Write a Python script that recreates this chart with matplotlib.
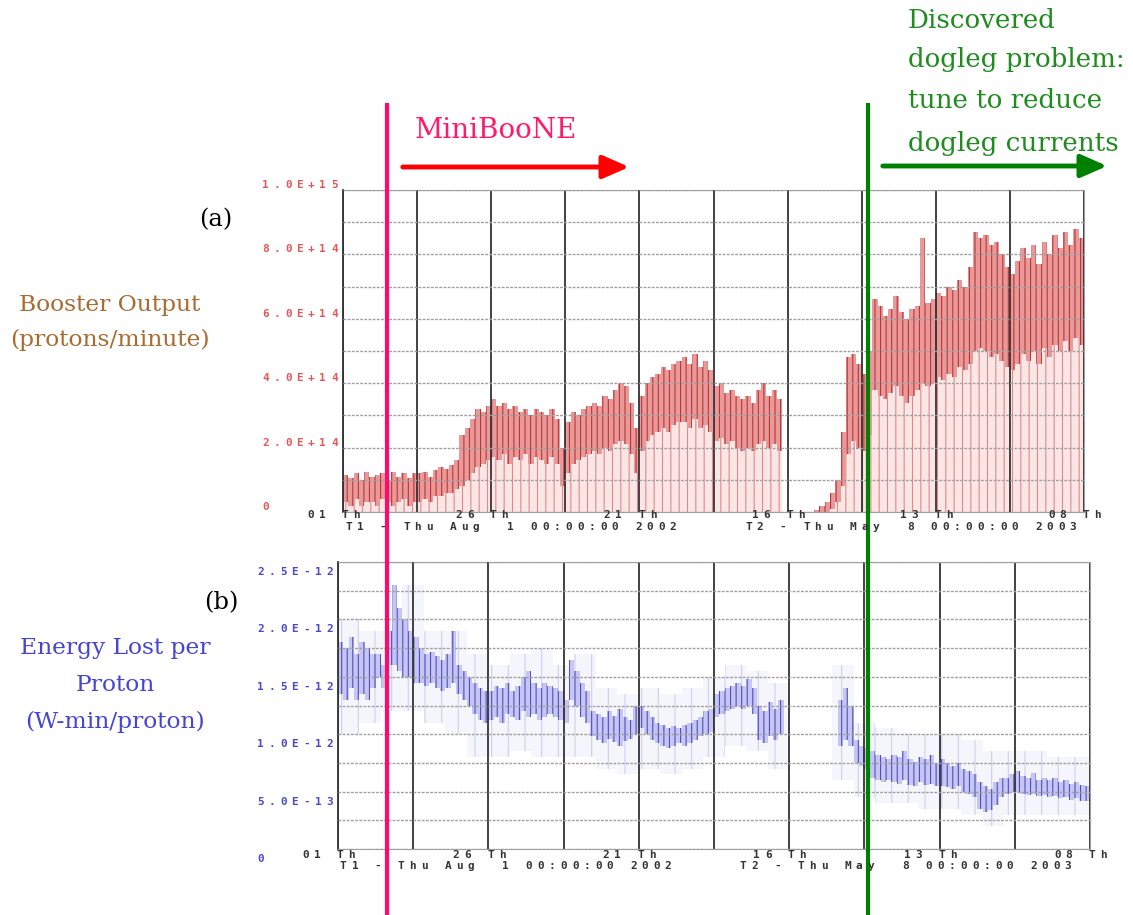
import numpy as np
import matplotlib
matplotlib.use('Agg')
import matplotlib.pyplot as plt

# --- DATA ---
# (a) booster output, units of 1E14 protons/minute, one value per 2-day bin from Aug 1 2002
a_top = [1.15, 1.05, 1.2, 1.0, 1.25, 1.1, 1.15, 1.2, 1.0, 1.25, 1.1, 1.2, 1.05, 1.2,
         1.2, 1.25, 1.1, 1.3, 1.4, 1.35, 1.45,
         1.6, 2.4, 2.6, 2.9, 3.2, 3.1, 3.3,
         3.5, 3.3, 3.4, 3.2, 3.3, 3.1, 3.2, 3.0, 3.2, 3.1, 3.0, 3.2, 2.9,
         2.0, 2.8,
         3.1, 3.0, 3.2, 3.3, 3.4, 3.3, 3.6, 3.5, 3.8, 4.0, 3.9, 3.4,
         2.6, 3.6, 4.0, 4.2, 4.3, 4.5, 4.4, 4.6, 4.7,
         4.8, 4.6, 4.9, 4.5, 4.7, 4.4,
         3.9, 4.0, 3.7, 3.8, 3.6, 3.5, 3.6, 3.4, 3.8, 4.0, 3.6, 3.8, 3.5,
         0, 0, 0, 0, 0, 0, 0.05,
         0.2, 0.3, 0.6, 1.0, 2.5,
         4.8, 4.9, 4.6, 4.3, 5.0,
         6.6, 6.4, 6.1, 6.3, 6.7, 6.2, 6.0, 6.3,
         6.4, 8.5, 6.5, 6.6, 6.8, 6.7, 7.0, 6.9, 7.2, 7.0, 7.6,
         8.7, 8.5, 8.6, 8.3, 8.4, 8.0, 7.6,
         7.4, 7.8, 8.2, 7.9, 8.3, 7.7, 8.4, 8.0, 8.6, 8.2, 8.7, 8.3, 8.8, 8.5]
a_core = [0.3, 0.2, 0.4, 0.2, 0.3, 0.3, 0.2, 0.4, 0.3, 0.2, 0.3, 0.4, 0.2, 0.3,
          0.3, 0.4, 0.3, 0.5, 0.5, 0.6, 0.6,
          0.7, 0.8, 1.0, 1.2, 1.4, 1.5, 1.6,
          1.7, 1.6, 1.8, 1.5, 1.7, 1.6, 1.8, 1.5, 1.7, 1.6, 1.5, 1.7, 1.5,
          0.8, 1.2,
          1.5, 1.6, 1.7, 1.8, 1.9, 1.8, 2.0, 1.9, 2.1, 2.2, 2.1, 1.8,
          1.2, 1.9, 2.2, 2.4, 2.5, 2.6, 2.5, 2.7, 2.8,
          2.8, 2.6, 2.9, 2.6, 2.7, 2.5,
          2.2, 2.3, 2.1, 2.2, 2.0, 1.9, 2.0, 1.9, 2.1, 2.2, 2.0, 2.1, 1.9,
          0, 0, 0, 0, 0, 0, 0,
          0, 0, 0.1, 0.3, 0.8,
          1.8, 2.2, 2.0, 1.9, 2.4,
          3.8, 3.6, 3.5, 3.7, 3.9, 3.6, 3.4, 3.6,
          3.8, 4.0, 3.9, 4.0, 4.2, 4.1, 4.3, 4.2, 4.5, 4.4, 4.6,
          5.0, 5.1, 5.0, 4.8, 4.9, 4.7, 4.5,
          4.4, 4.6, 4.9, 4.7, 5.0, 4.6, 5.1, 4.8, 5.2, 5.0, 5.3, 5.0, 5.4, 5.2]

# (b) energy lost per proton, units of 1E-12 W-min/proton, dense band per 2-day bin
nan = np.nan
b_hi = [1.8, 1.75, 1.85, 1.7, 1.8, 1.75, 1.7,
        1.7, 1.6, 1.9,
        2.3, 2.1, 2.0, 1.9, 1.85,
        1.75, 1.7, 1.72, 1.68, 1.65, 1.7, 1.9,
        1.6, 1.55, 1.5, 1.45, 1.4, 1.38,
        1.38, 1.42, 1.4, 1.45, 1.38, 1.42, 1.5, 1.55, 1.45, 1.4, 1.45, 1.42, 1.4, 1.38,
        1.3,
        1.65, 1.55, 1.45, 1.38,
        1.2, 1.18, 1.15, 1.2, 1.16, 1.22, 1.15, 1.12,
        1.25,
        1.25, 1.2, 1.15, 1.1, 1.08, 1.05, 1.07, 1.05,
        1.08, 1.1, 1.12, 1.15, 1.2, 1.22,
        1.35, 1.38, 1.4, 1.42, 1.45, 1.42, 1.48, 1.4,
        1.25, 1.2, 1.28, 1.22, 1.3,
        nan, nan, nan, nan, nan, nan, nan, nan, nan, nan,
        1.3, 1.4, 1.25,
        0.95, 0.9, 0.88,
        0.85, 0.82, 0.8, 0.78, 0.82, 0.8, 0.85, 0.78, 0.76, 0.8, 0.78, 0.82, 0.75,
        0.78, 0.75, 0.72, 0.75, 0.7, 0.68, 0.65,
        0.58, 0.55, 0.52, 0.58, 0.62,
        0.62, 0.65, 0.68, 0.64, 0.62, 0.66, 0.6, 0.62, 0.6, 0.62, 0.58, 0.6, 0.57, 0.58, 0.56, 0.55]
b_lo = [1.35, 1.3, 1.4, 1.3, 1.35, 1.3, 1.4,
        1.5, 1.4, 1.6,
        1.6, 1.55, 1.5, 1.5, 1.45,
        1.45, 1.42, 1.45, 1.4, 1.38, 1.4, 1.45,
        1.35, 1.3, 1.25, 1.18, 1.12, 1.1,
        1.12, 1.15, 1.1, 1.18, 1.15, 1.12, 1.2, 1.15, 1.18, 1.12, 1.15, 1.18, 1.15, 1.12,
        1.1,
        1.3, 1.25, 1.15, 1.1,
        0.98, 0.95, 0.92, 0.96, 0.93, 0.9, 0.94, 0.96,
        1.0,
        1.05, 1.0, 0.95, 0.92, 0.9, 0.88, 0.9, 0.92,
        0.9, 0.92, 0.95, 0.98, 1.0, 1.02,
        1.15, 1.18, 1.2, 1.22, 1.25, 1.22, 1.25, 1.18,
        0.95, 0.92, 0.98, 0.95, 1.0,
        nan, nan, nan, nan, nan, nan, nan, nan, nan, nan,
        0.9, 0.95, 0.9,
        0.75, 0.72, 0.7,
        0.62, 0.6, 0.58, 0.6, 0.58, 0.57, 0.6, 0.56, 0.55, 0.58, 0.56, 0.57, 0.55,
        0.55, 0.54, 0.52, 0.55, 0.5, 0.48, 0.45,
        0.35, 0.32, 0.34, 0.38, 0.45,
        0.48, 0.5, 0.5, 0.48, 0.47, 0.48, 0.46, 0.47, 0.45, 0.46, 0.44, 0.45, 0.43, 0.44, 0.42, 0.42]
# sparser cloud around the band, per 8-day bin
halo_lo = [1.0, 1.1, 1.2, 1.2, 1.1, 1.0, 0.8, 0.8, 0.85, 0.8, 0.8, 0.8, 0.7, 0.65, 0.7, 0.65,
           0.7, 0.8, 0.9, 0.85, 0.7, nan, nan, 0.6, 0.45, 0.4, 0.4, 0.35, 0.35, 0.3, 0.2,
           0.3, 0.3, 0.3, 0.3]
halo_hi = [2.0, 1.9, 1.9, 2.3, 1.9, 1.9, 1.7, 1.6, 1.7, 1.75, 1.6, 1.7, 1.4, 1.35, 1.4, 1.35,
           1.4, 1.5, 1.6, 1.55, 1.45, nan, nan, 1.6, 1.1, 1.05, 1.0, 1.0, 1.0, 0.95, 0.85,
           0.85, 0.85, 0.8, 0.8]

a_ylabels = ['1.0E+15', '8.0E+14', '6.0E+14', '4.0E+14', '2.0E+14', '0']
a_yvals = [10, 8, 6, 4, 2, 0]
b_ylabels = ['2.5E-12', '2.0E-12', '1.5E-12', '1.0E-12', '5.0E-13', '0']
b_yvals = [2.5, 2.0, 1.5, 1.0, 0.5, 0]
date_labels = ['01', '26', '21', '16', '13', '08']
span_days = 280

W, H = 1133, 915
plt.rcParams['hatch.linewidth'] = 0.8
fig = plt.figure(figsize=(W / 100, H / 100), dpi=100)

def fx(x): return x / W
def fy(y): return 1 - y / H

MONO = dict(family='DejaVu Sans Mono', weight='bold', fontsize=8)

def spaced(x0, y, s, pitch=11.6, **kw):
    for i, ch in enumerate(s):
        if ch != ' ':
            fig.text(fx(x0 + i * pitch), fy(y), ch, ha='left', va='center', **kw)

def panel(left, right, top, bottom, ymax):
    ax = fig.add_axes([fx(left), fy(bottom), (right - left) / W, (bottom - top) / H])
    ax.set_xlim(0, span_days); ax.set_ylim(0, ymax)
    ax.set_xticks(np.arange(0, span_days + 1, 28))
    ax.set_yticks(np.linspace(0, ymax, 11))
    ax.tick_params(length=0, labelbottom=False, labelleft=False)
    ax.grid(axis='y', color='#a0a0a0', lw=1.0, ls=(0, (2, 1)))
    ax.grid(axis='x', color='#333333', lw=1.3)
    ax.set_axisbelow(False)
    for s in ['top', 'right', 'bottom']:
        ax.spines[s].set_color('#a0a0a0')
    ax.spines['left'].set_color('#333333'); ax.spines['left'].set_linewidth(1.3)
    return ax

# --- (a) ---
a_days = np.arange(0, span_days, 2)
axa = panel(343, 1084, 190, 512, 10)
a_top_arr, a_core_arr = np.array(a_top), np.array(a_core)
axa.bar(a_days, a_top_arr, width=2, align='edge', color='#fbe6e6', edgecolor='#e08a8a',
        hatch='||', lw=0)
axa.bar(a_days, a_top_arr - a_core_arr, bottom=a_core_arr, width=2, align='edge',
        color='#e89a9a', edgecolor='#bf3434', hatch='|||', lw=0)

# --- (b) ---
axb = panel(338, 1090, 562, 849, 2.5)
h_days = np.arange(0, span_days, 8)
h_lo, h_hi = np.array(halo_lo), np.array(halo_hi)
axb.bar(h_days, h_hi - h_lo, bottom=h_lo, width=8, align='edge', color='#f5f5fc',
        edgecolor='#cfcff0', hatch='|', lw=0)
bl, bh = np.array(b_lo), np.array(b_hi)
axb.bar(a_days, bh - bl, bottom=bl, width=2, align='edge', color='#c6c6f0',
        edgecolor='#4e4ecc', hatch='|||', lw=0)

# --- y tick labels ---
for lab, v in zip(a_ylabels, a_yvals):
    spaced(262, 512 - v / 10 * 322 - 5, lab, pitch=11.5, color='#e05a5a', **MONO)
for lab, v in zip(b_ylabels, b_yvals):
    spaced(257, 849 - v / 2.5 * 287 + 10, lab, pitch=11.5, color='#4848d0', **MONO)

# --- date rows ---
for (l, r, y1, y2) in [(343, 1084, 515, 527), (338, 1090, 855, 866)]:
    for k, d in enumerate(date_labels):
        xt = l + (r - l) * k / 5
        spaced(xt - 36, y1, d + ' Th', color='#333333', **MONO)
    spaced(l + 2, y2, 'T1 - Thu Aug  1 00:00:00 2002', color='#333333', **MONO)
    spaced(l + 402, y2, 'T2 - Thu May  8 00:00:00 2003', color='#333333', **MONO)

# --- overlay in pixel coordinates ---
ov = fig.add_axes([0, 0, 1, 1], facecolor='none')
ov.set_xlim(0, W); ov.set_ylim(H, 0); ov.axis('off')
SERIF = dict(family='DejaVu Serif')

ov.plot([387, 387], [103, H], color='#ff0a6c', lw=3, solid_capstyle='butt')
ov.plot([868, 868], [103, H], color='#008000', lw=3, solid_capstyle='butt')
ov.annotate('', xy=(632, 167), xytext=(400, 167),
            arrowprops=dict(arrowstyle='-|>,head_length=0.8,head_width=0.35',
                            color='#ff0000', lw=3.5, mutation_scale=20))
ov.annotate('', xy=(1110, 166), xytext=(880, 166),
            arrowprops=dict(arrowstyle='-|>,head_length=0.8,head_width=0.35',
                            color='#008000', lw=3.5, mutation_scale=20))
ov.text(415, 130, 'MiniBooNE', color='#ff1a6e', va='center', ha='left', fontsize=20, **SERIF)
for line, y in zip(['Discovered', 'dogleg problem:', 'tune to reduce', 'dogleg currents'],
                   [20, 60, 100, 143]):
    ov.text(908, y, line, color='#1e8c1e', va='center', ha='left', fontsize=18.8, **SERIF)

ov.text(216, 220, '(a)', color='black', va='center', ha='center', fontsize=17.5, **SERIF)
ov.text(221, 603, '(b)', color='black', va='center', ha='center', fontsize=17.5, **SERIF)
for line, y in zip(['Booster Output', '(protons/minute)'], [305, 340]):
    ov.text(110, y, line, color='#a86c32', va='center', ha='center', fontsize=16.8, **SERIF)
for line, y in zip(['Energy Lost per', 'Proton', '(W-min/proton)'], [648, 685, 722]):
    ov.text(115, y, line, color='#4545d4', va='center', ha='center', fontsize=16.8, **SERIF)

fig.savefig('out.png', dpi=100, facecolor='white')
